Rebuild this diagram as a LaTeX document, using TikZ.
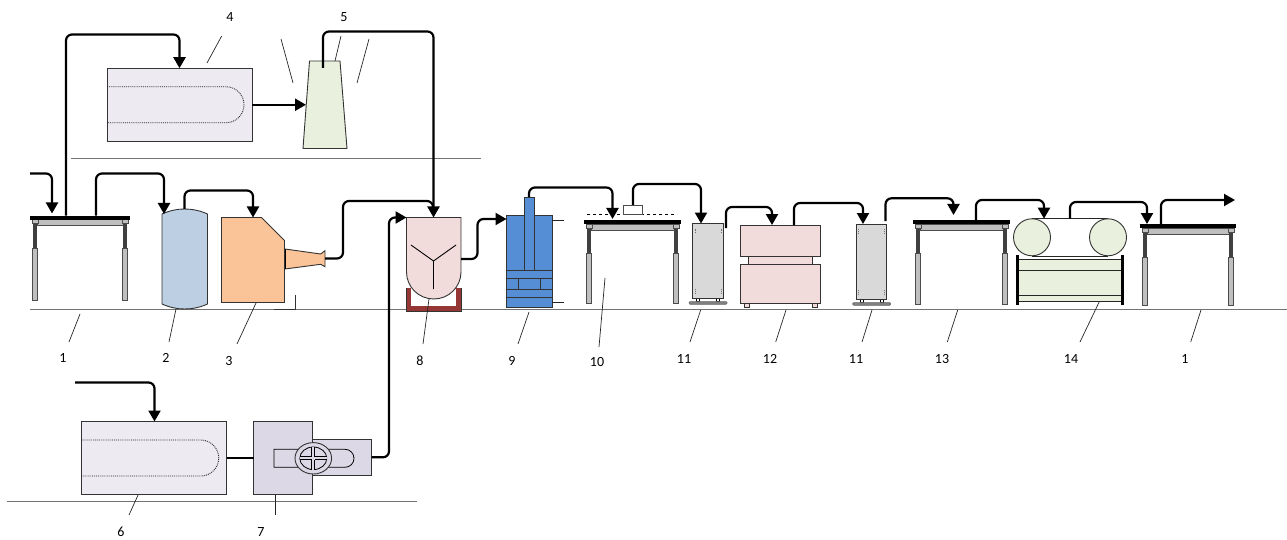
\documentclass[tikz,border=0pt]{standalone}
\usepackage{fontspec}
\setmainfont{Carlito}
\usepackage{tikz}
\usetikzlibrary{arrows.meta}
\definecolor{ovenfill}{HTML}{EDEAF2}
\definecolor{lilac}{HTML}{DDD8E6}
\definecolor{palegreen}{HTML}{E9F0DE}
\definecolor{palepink}{HTML}{F2DCDB}
\definecolor{tankblue}{HTML}{BDCFE2}
\definecolor{furnace}{HTML}{FAC498}
\definecolor{pressblue}{HTML}{558ED5}
\definecolor{traybrown}{HTML}{953735}
\definecolor{leggray}{HTML}{BFBFBF}
\definecolor{washgray}{HTML}{D9D9D9}
\tikzset{
    flow/.style={line width=2.2pt,rounded corners=6pt,-{Triangle[length=11pt,width=12pt]}},
    link/.style={line width=2.2pt,rounded corners=6pt},
    unit/.style={draw=black!80,line width=0.9pt,inner sep=0pt,outer sep=0pt},
    floorline/.style={draw=black!55,line width=1pt},
    leader/.style={draw=black!85,line width=0.7pt},
    tag/.style={font=\fontsize{14}{14}\selectfont,inner sep=0pt}
}
\begin{document}
\begin{tikzpicture}[x=1pt,y=-1pt]
    \useasboundingbox (0,0) rectangle (1287,540);
    \draw[floorline] (30,309.5) -- (1287,309.5);
    \draw[floorline] (71,158.5) -- (481,158.5);
    \draw[floorline] (7,501) -- (417,501);
    \draw[line width=0.9pt,draw=black!80] (274,309.5) -- (295,309.5) -- (295,295);

    \foreach \name/\xl/\xr/\ytop/\ybot in {tablea/30/130/217.5/300.5,tableb/584/681/222/303,tablec/913/1010/222/304,tabled/1140/1236/226/305}{
        \draw[fill=leggray,draw=black!70,line width=0.8pt] (\xl+7,\ytop+2) rectangle (\xr-7,\ytop+8);
        \foreach \leg in {\xl+5,\xr-5}{
            \fill[black!75] ({\leg-1.6},\ytop+2) rectangle ({\leg+1.6},\ytop+31);
            \draw[fill=leggray,draw=black!70,line width=0.9pt] ({\leg-2.3},\ytop+31) rectangle ({\leg+2.3},\ybot);
            \draw[fill=leggray,draw=black!70,line width=0.6pt] ({\leg-3},\ytop+2) rectangle ({\leg+3},\ytop+6);
        }
        \node[fill=black,minimum width=\xr pt-\xl pt,minimum height=4pt,inner sep=0pt,outer sep=0pt] (\name) at ({(\xl+\xr)/2},\ytop) {};
    }

    \foreach \name/\cx/\cy in {ovena/179.5/104.75,ovenb/154.25/458}{
        \node[unit,fill=ovenfill,minimum width=145pt,minimum height=73pt] (\name) at (\cx,\cy) {};
        \draw[line width=0.9pt,densely dotted,draw=black!85] ([yshift=18pt]\name.west) -- ++(119,0) arc[start angle=-90,end angle=90,radius=18] -- ++(-119,0);
    }

    \draw[unit,fill=palegreen] (309.5,61) -- (340,61) -- (347,148.5) -- (303,148.5) -- cycle;
    \coordinate (stackin) at (306,104.75);
    \coordinate (stackout) at (323,68);

    \draw[unit,fill=tankblue] (162,214) .. controls (170,210.5) and (177,209) .. (184.5,209) coordinate (tanktop) .. controls (192,209) and (200,210.5) .. (207.5,214) -- (207.5,304) .. controls (200,307.5) and (192,309) .. (184.5,309) .. controls (177,309) and (170,307.5) .. (162,304) -- cycle;
    \coordinate (tankin) at (164,214);

    \draw[unit,fill=furnace] (285,249) -- (320.7,254) -- (325,250.7) -- (325,266.7) -- (320.7,264.3) -- (285,269) -- cycle;
    \draw[line width=1.6pt] (285,249) -- (285,269);
    \draw[unit,fill=furnace] (221.5,217.5) -- (261.5,217.5) -- (284.5,240.5) -- (284.5,302.5) -- (221.5,302.5) -- cycle;
    \coordinate (furnacein) at (253,217.5);
    \coordinate (nozzle) at (325,258.5);

    \fill[traybrown] (406.5,288) rectangle (461,311.5);
    \fill[white] (411,288) rectangle (456,306);
    \draw[line width=0.6pt,draw=black!80] (406.5,288) -- (406.5,311.5) -- (461,311.5) -- (461,288);
    \draw[unit,fill=palepink] (406.5,217.5) coordinate (vesseltl) -- (461,217.5) -- (461,272) arc[start angle=0,end angle=180,x radius=27.25,y radius=27] -- cycle;
    \coordinate (vesseltop) at (433.5,217.5);
    \coordinate (vesselout) at (461,259);
    \draw[line width=0.9pt] (411,245) -- (433.5,261) -- (456,245) (433.5,261) -- (433.5,289);

    \node[unit,fill=pressblue,minimum width=45.5pt,minimum height=91.5pt] (press) at (529.25,261.5) {};
    \draw[unit,fill=pressblue] (524.7,197) rectangle (534,270);
    \draw[unit] (press.west |- 0,270) -- (press.east |- 0,270) (press.west |- 0,278) -- (press.east |- 0,278) (press.west |- 0,289) -- (press.east |- 0,289) (press.west |- 0,297) -- (press.east |- 0,297) (518,278) -- (518,289) (540.7,278) -- (540.7,289);
    \draw[leader] (552,220.5) -- (564,220.5) (552,302.5) -- (564,302.5);
    \coordinate (rodtop) at (529,197);

    \draw[line width=0.7pt,dashed] (587,214) -- (677,214);
    \node[draw=black!70,fill=white,line width=0.7pt,minimum width=18.5pt,minimum height=9pt,inner sep=0pt,outer sep=0pt] (sensor) at (633,209.5) {};

    \foreach \name/\cx/\ytop/\ybot/\w in {washa/708/223.5/298/30.5,washb/871.7/224/299/30}{
        \foreach \sx in {-10,10}
            \draw[fill=white,line width=0.8pt] (\cx+\sx-1.8,\ybot) rectangle (\cx+\sx+1.8,\ybot+3.5);
        \draw[fill=black!50,draw=black!60,line width=0.5pt,rounded corners=1pt] (\cx-19,\ybot+3.5) rectangle (\cx+19,\ybot+6.3);
        \node[unit,fill=washgray,minimum width=\w pt,minimum height=\ybot pt-\ytop pt] (\name) at (\cx,{(\ytop+\ybot)/2}) {};
        \foreach \sx in {-13,13}
            \foreach \sy in {\ytop+5,\ybot-9}
                \draw[line width=0.8pt,draw=black!55,densely dotted] ({\cx+\sx},{\sy}) -- ({\cx+\sx},{\sy+5});
    }

    \node[unit,fill=palepink,minimum width=79.5pt,minimum height=31.5pt] (pressa) at (780.5,240.75) {};
    \node[unit,fill=palepink,minimum width=64.5pt,minimum height=8pt] (pressb) at (780.5,260.25) {};
    \foreach \fx in {744,812}
        \draw[fill=palepink,line width=0.6pt,draw=black!80] (\fx,303.7) rectangle (\fx+5,307.5);
    \node[unit,fill=palepink,minimum width=79.5pt,minimum height=39.5pt] (pressc) at (780.5,284) {};

    \fill[palegreen] (1019,259) rectangle (1121,301);
    \draw[line width=0.9pt,draw=black!85] (1019,259) -- (1121,259) (1019,270) -- (1121,270) (1019,295) -- (1121,295) (1019,301) -- (1121,301);
    \draw[line width=2.4pt] (1017.3,255) -- (1017.3,305) (1122.3,255) -- (1122.3,305);
    \draw[line width=0.9pt,draw=black!85] (1032,218.7) -- (1108,218.7) (1032,256) -- (1108,256);
    \node[unit,circle,fill=palegreen,minimum size=37pt] (rolla) at (1032,237.3) {};
    \node[unit,circle,fill=palegreen,minimum size=37pt] (rollb) at (1108,237.3) {};
    \coordinate (beltin) at (1044,218.7);
    \coordinate (beltout) at (1070,218.7);

    \node[unit,fill=lilac,minimum width=59pt,minimum height=72.5pt] (pumpa) at (283,457.75) {};
    \node[unit,fill=lilac,minimum width=59pt,minimum height=36pt] (pumpb) at (342,457.3) {};
    \draw[line width=0.8pt] (345,449.3) -- (274,449.3) -- (274,467.3) -- (345,467.3) arc[start angle=90,end angle=-90,radius=9];
    \draw[unit,fill=lilac] (313.3,458.3) ellipse[x radius=18.3,y radius=15.7];
    \draw[line width=0.8pt,fill=lilac] (313.3,458.3) ellipse[x radius=13.5,y radius=11.3];
    \draw[line width=0.8pt,double=lilac,double distance=2.2pt] (299.8,458.3) -- (326.8,458.3) (313.3,447) -- (313.3,469.6);
    \node[inner sep=0pt,minimum size=3pt,fill=lilac] (pumphub) at (313.3,458.3) {};

    \coordinate (feeda) at (30,173.5);
    \coordinate (feedb) at (75,382.5);
    \coordinate (outlet) at (1235,200);
    \draw[flow] (feeda) -| ([yshift=2pt]tablea.north -| 52,0);
    \draw[flow] (tablea.north -| 66,0) -- (66,34.5) -| (ovena.north -| 179.5,0);
    \draw[flow] ([xshift=16pt]tablea.north) -- ++(0,-42) -| (tankin);
    \draw[flow] (tanktop) -- ++(0,-18.5) -| (furnacein);
    \draw[flow] (ovena.east) -- (stackin);
    \draw[flow] (stackout) -- ++(0,-36.5) -| (vesseltop);
    \draw[link] (nozzle) -| (343,201) -- (433,201) -- (433,211);
    \draw[flow] (vesselout) -- (477.5,259) |- (press.west |- 0,219);
    \draw[flow] (rodtop) -- ++(0,-9.5) -| ([yshift=1pt,xshift=-20pt]tableb.north);
    \draw[flow] (sensor.north) -- ++(0,-21) -| (washa.north -| 701,0);
    \draw[flow] (726,228) -- (726,207) -| (pressa.north -| 772,0);
    \draw[flow] (794,225) -- (794,203) -| (washb.north -| 863,0);
    \draw[flow] (885.5,221) -- (885.5,198.3) -| (953.5,215);
    \draw[flow] ([xshift=14.5pt]tablec.north) -- (976,200) -| (beltin);
    \draw[flow] (beltout) -- (1070,202) -| ([xshift=-41pt]tabled.north);
    \draw[flow] ([xshift=-27pt]tabled.north) -- (1161,200) -- (outlet);
    \draw[flow] (feedb) -| (ovenb.north -| 154.5,0);
    \draw[link] (ovenb.east) -- (ovenb.east -| pumpa.west);
    \draw[flow] (pumpb.east) -- (389,457.3) |- (vesseltl);

    \foreach \name/\txt/\lx/\ly/\ax/\ay/\bx/\by in {
        a/1/63/358/80/314/69/342, b/2/166/358/176/309/169/342, c/3/229/361/256/303/237/344,
        d/4/230/17/221.7/36/207/63, e/5/344/17/341/36/335/61,
        f/6/121/532/138.3/494.5/129/515, g/7/261/532/275/494.5/275/515,
        h/8/420/361/429/299/423/344, i/9/512/361/529/312/518/344, j/10/597/362/605/278/599/347,
        k/11/684/359/700.7/310/690/342, l/12/770/359/786/310/775.7/342, m/11/856/359/872/310/862/342,
        n/13/942/359/957.7/310/947.3/342, o/14/1071/359/1099.3/301.7/1080/342, p/1/1185/359/1201/310/1190.7/342}{
        \node[tag] (tag\name) at (\lx,\ly) {\txt};
        \coordinate (lead\name a) at (\ax,\ay);
        \coordinate (lead\name b) at (\bx,\by);
        \draw[leader] (lead\name a) -- (lead\name b);
    }
    \coordinate (leadqa) at (281,39);
    \coordinate (leadqb) at (293,83);
    \coordinate (leadra) at (369,39);
    \coordinate (leadrb) at (357,83);
    \draw[leader] (leadqa) -- (leadqb) (leadra) -- (leadrb);
\end{tikzpicture}
\end{document}
